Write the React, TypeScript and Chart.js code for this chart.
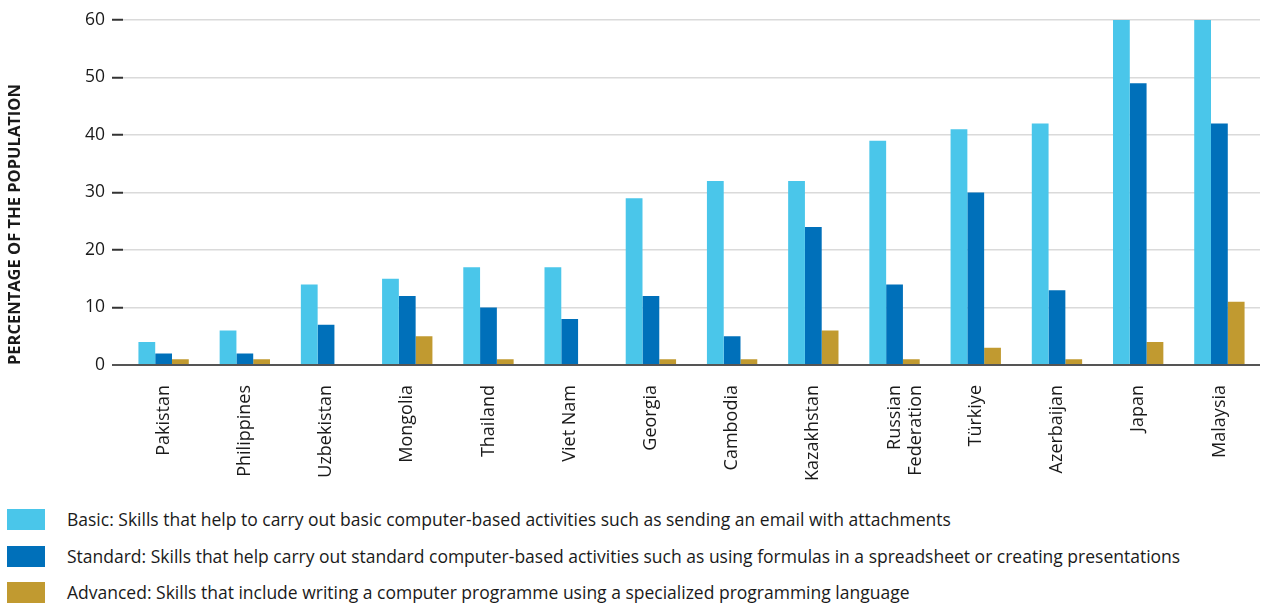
import React, { useEffect, useRef } from "react";
import { Chart, registerables } from "chart.js";

Chart.register(...registerables);

const categories: (string | string[])[] = [
  "Pakistan",
  "Philippines",
  "Uzbekistan",
  "Mongolia",
  "Thailand",
  "Viet Nam",
  "Georgia",
  "Cambodia",
  "Kazakhstan",
  ["Russian", "Federation"],
  "Türkiye",
  "Azerbaijan",
  "Japan",
  "Malaysia",
];

const basicValues = [4, 6, 14, 15, 17, 17, 29, 32, 32, 39, 41, 42, 60, 60];
const standardValues = [2, 2, 7, 12, 10, 8, 12, 5, 24, 14, 30, 13, 49, 42];
const advancedValues: (number | null)[] = [1, 1, null, 5, 1, null, 1, 1, 6, 1, 3, 1, 4, 11];

const seriesLabels = [
  "Basic: Skills that help to carry out basic computer-based activities such as sending an email with attachments",
  "Standard: Skills that help carry out standard computer-based activities such as using formulas in a spreadsheet or creating presentations",
  "Advanced: Skills that include writing a computer programme using a specialized programming language",
];
const seriesColors = ["#4AC6EA", "#0070BA", "#C19A30"];

const yTitle = "PERCENTAGE OF THE POPULATION";
const yMin = 0;
const yMax = 60;
const yStep = 10;

const FONT = "'Open Sans', 'Noto Sans', sans-serif";

export default function App() {
  const canvasRef = useRef<HTMLCanvasElement | null>(null);

  useEffect(() => {
    document.body.style.margin = "0";
    const canvas = canvasRef.current;
    if (!canvas) return;
    Chart.defaults.font.family = FONT;
    const chart = new Chart(canvas, {
      type: "bar",
      data: {
        labels: categories,
        datasets: [
          { label: seriesLabels[0], data: basicValues, backgroundColor: seriesColors[0] },
          { label: seriesLabels[1], data: standardValues, backgroundColor: seriesColors[1] },
          { label: seriesLabels[2], data: advancedValues, backgroundColor: seriesColors[2] },
        ],
      },
      options: {
        animation: false,
        responsive: false,
        maintainAspectRatio: false,
        layout: { padding: { top: 20, right: 1, left: 0, bottom: 0 } },
        datasets: {
          bar: { categoryPercentage: 0.62, barPercentage: 1.0 },
        },
        plugins: {
          legend: { display: false },
          tooltip: { enabled: false },
        },
        scales: {
          x: {
            offset: true,
            grid: { display: false },
            border: { display: false },
            ticks: {
              autoSkip: false,
              minRotation: 90,
              maxRotation: 90,
              padding: 12,
              color: "#1a1a1a",
              font: { size: 18 },
            },
            afterFit: (scale: any) => {
              scale.height = 125;
            },
          },
          y: {
            min: yMin,
            max: yMax,
            border: { display: false },
            grid: {
              color: (ctx: any) => (ctx.tick && ctx.tick.value === 0 ? "#555555" : "#dadada"),
              lineWidth: (ctx: any) => (ctx.tick && ctx.tick.value === 0 ? 2 : 1.5),
              tickColor: (ctx: any) => (ctx.tick && ctx.tick.value === 0 ? "#555555" : "#333333"),
              tickWidth: 2,
              tickLength: 11,
              drawTicks: true,
            },
            ticks: {
              stepSize: yStep,
              padding: 7,
              color: "#1a1a1a",
              font: { size: 17.5 },
            },
            title: {
              display: true,
              text: yTitle,
              align: "start",
              color: "#1a1a1a",
              font: { size: 16.5, weight: "bold" },
              padding: { top: 5, bottom: 0 },
            },
            afterFit: (scale: any) => {
              scale.width = 123;
            },
          },
        },
      },
    } as any);
    return () => chart.destroy();
  }, []);

  const rowTops = [509, 546, 582];

  return (
    <div style={{ position: "relative", width: 1261, height: 604, overflow: "hidden", fontFamily: FONT }}>
      <canvas ref={canvasRef} width={1261} height={490} style={{ position: "absolute", left: 0, top: 0, width: 1261, height: 490 }} />
      {seriesLabels.map((label, i) => (
        <div key={i} style={{ position: "absolute", left: 0, top: rowTops[i], height: 21, width: 1261 }}>
          <div style={{ position: "absolute", left: 7, top: 0, width: 38, height: 21, background: seriesColors[i] }} />
          <div
            style={{
              position: "absolute",
              left: 67,
              top: 0,
              height: 21,
              lineHeight: "21px",
              fontSize: 17.5,
              color: "#1a1a1a",
              whiteSpace: "nowrap",
            }}
          >
            {label}
          </div>
        </div>
      ))}
    </div>
  );
}
